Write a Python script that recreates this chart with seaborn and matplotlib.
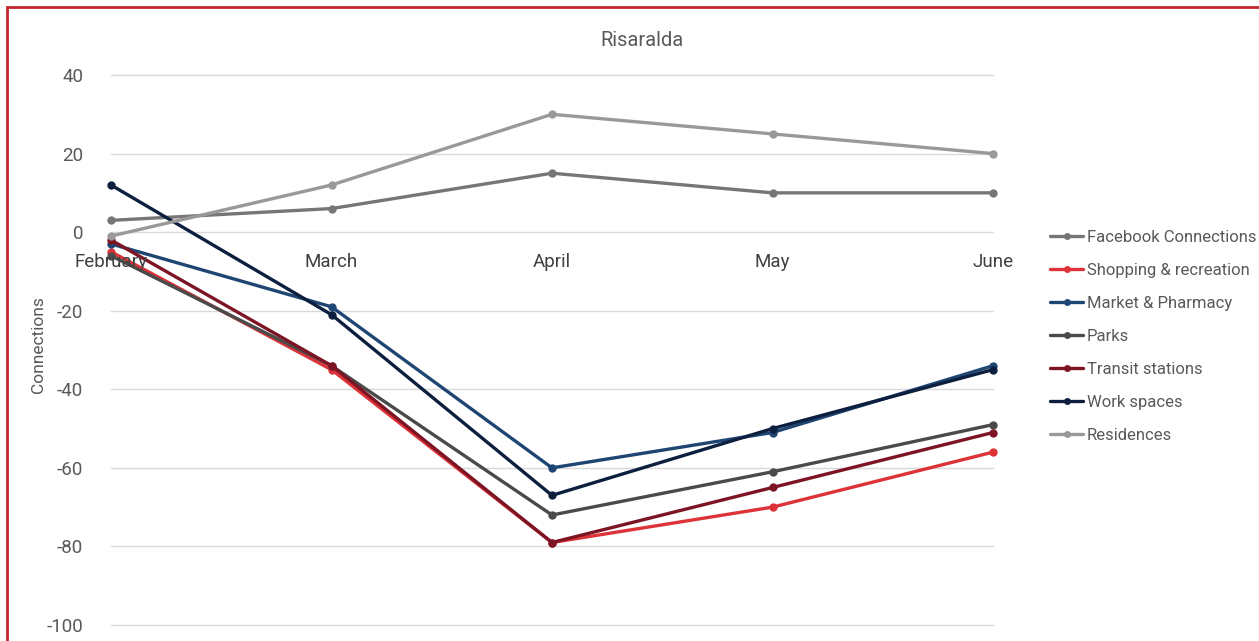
import pandas as pd
import numpy as np
import matplotlib
matplotlib.use("Agg")
import matplotlib.pyplot as plt
import seaborn as sns
from matplotlib.patches import Rectangle

# data
months = ["February", "March", "April", "May", "June"]
facebook = [3, 6, 15, 10, 10]
shopping = [-5, -35, -79, -70, -56]
market = [-3, -19, -60, -51, -34]
parks = [-6, -34, -72, -61, -49]
transit = [-2, -34, -79, -65, -51]
work = [12, -21, -67, -50, -35]
residences = [-1, 12, 30, 25, 20]

series_names = ["Facebook Connections", "Shopping & recreation", "Market & Pharmacy",
                "Parks", "Transit stations", "Work spaces", "Residences"]
series_values = [facebook, shopping, market, parks, transit, work, residences]
colors = ["#767676", "#dc3238", "#1f4673", "#4a4a4a", "#7d1424", "#0c1f3f", "#999999"]
yticks = [40, 20, 0, -20, -40, -60, -80, -100]

rows = []
for name, vals in zip(series_names, series_values):
    for i, v in enumerate(vals):
        rows.append({"month": i, "series": name, "value": v})
df = pd.DataFrame(rows)

sns.set_style("white")
plt.rcParams['font.family'] = ['Roboto', 'DejaVu Sans']
txt = "#595959"

fig = plt.figure(figsize=(12.59, 6.41), dpi=100)
W, H = 1259, 641
ax = fig.add_axes([111 / W, (H - 625) / H, (993 - 111) / W, (625 - 75) / H])

sns.lineplot(data=df, x="month", y="value", hue="series", hue_order=series_names,
             palette=colors, marker="o", markersize=6, markeredgewidth=0,
             linewidth=2.4, ax=ax, legend=False)

ax.set_xlim(0, 4)
ax.set_ylim(-100, 40)
ax.set_yticks(yticks)
ax.set_yticklabels([str(t) for t in yticks], color=txt, fontsize=13.5)
ax.tick_params(axis="y", length=0, pad=20)
ax.set_xticks([])
ax.set_xlabel("")
ax.set_ylabel("")
ax.grid(axis="y", color="#d9d9d9", linewidth=1)
ax.set_axisbelow(True)
for s in ax.spines.values():
    s.set_visible(False)
for line in ax.lines:
    line.set_clip_on(False)
for gl in ax.get_ygridlines():
    gl.set_clip_on(False)

# category labels sit just under the zero line, like Excel does
for i, m in enumerate(months):
    ax.annotate(m, xy=(i, 0), xytext=(0, -15), textcoords="offset points",
                ha="center", va="top", fontsize=13.5, color="#404040")

fig.text(38 / W, 1 - 345 / H, "Connections", rotation=90, ha="center", va="center",
         fontsize=12.5, color=txt)
fig.text(642 / W, 1 - 40 / H, "Risaralda", ha="center", va="center",
         fontsize=14.5, color=txt)

handles = [plt.Line2D([], [], color=c, linewidth=2.4, marker="o", markersize=5,
                      markeredgewidth=0) for c in colors]
leg = fig.legend(handles, series_names, loc="upper left",
                 bbox_to_anchor=(1050 / W, 1 - 230 / H), frameon=False,
                 fontsize=12, handlelength=2.0, handletextpad=0.2,
                 labelspacing=1.08, borderaxespad=0, borderpad=0)
for t in leg.get_texts():
    t.set_color(txt)

# red frame of the chart area (cut off at right and bottom)
fig.patches.append(Rectangle((7 / W, -0.05), 1.2, 1 - 7 / H + 0.05,
                             transform=fig.transFigure, fill=False,
                             edgecolor="#c1272d", linewidth=2))

fig.savefig("out.png", dpi=100)
